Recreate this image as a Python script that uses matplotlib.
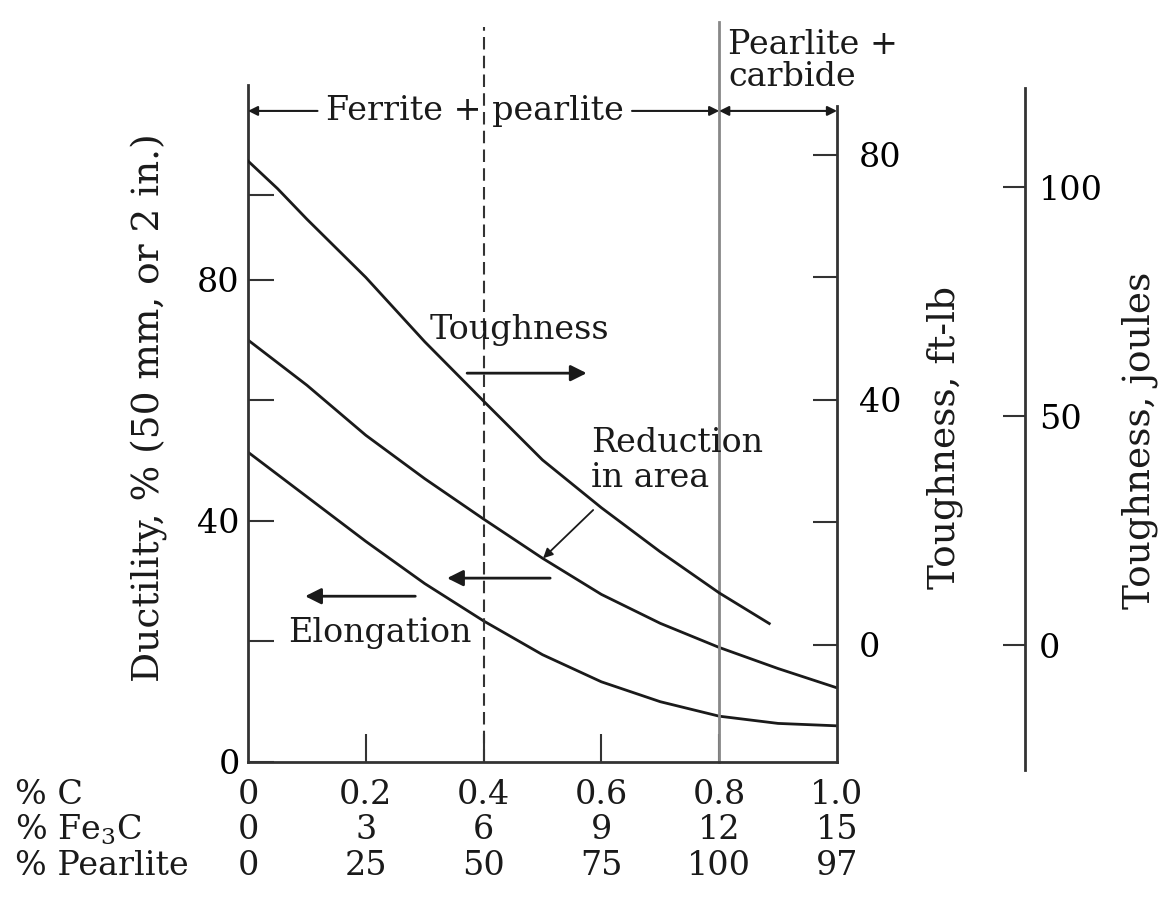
import matplotlib
matplotlib.use('Agg')
import matplotlib.pyplot as plt

plt.rcParams['font.family'] = ['DejaVu Serif']
plt.rcParams['font.size'] = 24
plt.rcParams['mathtext.fontset'] = 'dejavuserif'
plt.rcParams['mathtext.default'] = 'regular'

# composition scales under the x axis
carbon = ['0', '0.2', '0.4', '0.6', '0.8', '1.0']
carbon_pos = [0, 0.2, 0.4, 0.6, 0.8, 1.0]
fe3c = ['0', '3', '6', '9', '12', '15']
pearlite = ['0', '25', '50', '75', '100', '97']

# toughness, ft-lb (right scale)
x_tough = [0, 0.05, 0.1, 0.2, 0.3, 0.4, 0.5, 0.6, 0.7, 0.8, 0.885]
tough_ftlb = [79, 74.5, 69.5, 60, 49.5, 39.8, 30.2, 22.4, 15.2, 8.5, 3.5]

# ductility, % (left scale)
x_duct = [0, 0.1, 0.2, 0.3, 0.4, 0.5, 0.6, 0.7, 0.8, 0.9, 1.0]
reduction = [70, 62.5, 54.2, 47, 40.3, 33.8, 27.8, 23, 19, 15.5, 12.3]
elongation = [51.4, 44, 36.6, 29.6, 23.4, 17.8, 13.3, 10.0, 7.6, 6.4, 6.0]

duct_ticks = [0, 20, 40, 60, 80, 94]
duct_labels = ['0', '', '40', '', '80', '']
ftlb_ticks = [0, 20, 40, 60, 80]
ftlb_labels = ['0', '', '40', '', '80']
joule_ticks = [0, 50, 100]

DUCT_LIM = (0, 112.3)
FTLB_LIM = (-19.1, 91.4)
JOULE_LIM = (-25.5, 122.3)

ink = '#1a1a1a'

fig = plt.figure(figsize=(11.69, 9.10), dpi=100)
ax = fig.add_axes([248 / 1169, 148 / 910, 589 / 1169, 677 / 910])
ax.set_xlim(0, 1.0)
ax.set_ylim(*DUCT_LIM)

ax.plot(x_duct, reduction, color=ink, lw=2)
ax.plot(x_duct, elongation, color=ink, lw=2)

ax2 = ax.twinx()
ax2.set_ylim(*FTLB_LIM)
ax2.plot(x_tough, tough_ftlb, color=ink, lw=2)

ax3 = ax.twinx()
ax3.set_ylim(*JOULE_LIM)

# spines
for s in ['top', 'right']:
    ax.spines[s].set_visible(False)
for s in ['top', 'left', 'bottom']:
    ax2.spines[s].set_visible(False)
    ax3.spines[s].set_visible(False)
for a, s in [(ax, 'left'), (ax, 'bottom'), (ax2, 'right'), (ax3, 'right')]:
    a.spines[s].set_linewidth(2)
    a.spines[s].set_color('#333333')
ax2.spines['right'].set_bounds(-19.1, 88)
ax3.spines['right'].set_position(('axes', 1.319))
ax3.spines['right'].set_bounds(-27.3, 121.6)

# ticks
ax.set_xticks([0.2, 0.4, 0.6, 0.8])
ax.set_xticklabels([])
ax.tick_params(axis='x', direction='in', length=20, width=1.5, color='#333333')
ax.set_yticks(duct_ticks)
ax.set_yticklabels(duct_labels)
ax.tick_params(axis='y', direction='in', length=19, width=1.5, pad=6, color='#333333')
ax2.set_yticks(ftlb_ticks)
ax2.set_yticklabels(ftlb_labels)
ax2.tick_params(axis='y', direction='in', length=17, width=1.5, pad=16, color='#333333')
ax3.set_yticks(joule_ticks)
ax3.tick_params(axis='y', direction='in', length=16, width=1.5, pad=10, color='#333333')

# phase boundaries
ax.plot([0.4, 0.4], [0, 122], color='#333333', lw=1.5, ls=(0, (6, 3)), clip_on=False)
ax.plot([0.8, 0.8], [0, 122.7], color='#888888', lw=2, clip_on=False)

# phase region dimension lines
arr = dict(arrowstyle='-|>', lw=1.5, color=ink, mutation_scale=14, shrinkA=0, shrinkB=0)
ax.annotate('', xy=(0, 108), xytext=(0.118, 108), arrowprops=arr)
ax.annotate('', xy=(0.8, 108), xytext=(0.652, 108), arrowprops=arr)
ax.text(0.385, 108, 'Ferrite + pearlite', ha='center', va='center', color=ink)
ax.annotate('', xy=(1.0, 108), xytext=(0.8, 108),
            arrowprops=dict(arrowstyle='<|-|>', lw=1.5, color=ink, mutation_scale=14,
                            shrinkA=0, shrinkB=0))
ax.text(0.815, 116.3, 'Pearlite +\ncarbide', ha='left', va='center', linespacing=1.0, color=ink)

# curve labels and pointers
big = dict(arrowstyle='-|>', lw=2, color=ink, mutation_scale=24, shrinkA=0, shrinkB=0)
ax.text(0.46, 71.6, 'Toughness', ha='center', va='center', color=ink)
ax.annotate('', xy=(0.575, 64.5), xytext=(0.372, 64.5), arrowprops=big)
ax.text(0.583, 50, 'Reduction\nin area', ha='left', va='center', linespacing=1.1, color=ink)
ax.annotate('', xy=(0.501, 33.8), xytext=(0.586, 41.8),
            arrowprops=dict(arrowstyle='-|>', lw=1.3, color=ink, mutation_scale=14,
                            shrinkA=0, shrinkB=0))
ax.annotate('', xy=(0.338, 30.5), xytext=(0.513, 30.5), arrowprops=big)
ax.text(0.224, 21.4, 'Elongation', ha='center', va='center', color=ink)
ax.annotate('', xy=(0.097, 27.5), xytext=(0.284, 27.5), arrowprops=big)

# composition rows under the axis
tr = ax.get_xaxis_transform()
rows = [('% C', carbon, 795), ('% Fe$_3$C', fe3c, 830), ('% Pearlite', pearlite, 866)]
for name, vals, ypx in rows:
    yf = (762 - ypx) / 677
    fig.text(15 / 1169, 1 - ypx / 910, name, ha='left', va='center', color=ink)
    for xv, lab in zip(carbon_pos, vals):
        ax.text(xv, yf, lab, transform=tr, ha='center', va='center', color=ink)

# axis titles
fig.text(150 / 1169, 1 - 408 / 910, 'Ductility, % (50 mm, or 2 in.)', rotation=90,
         ha='center', va='center', fontsize=27, color=ink)
fig.text(945 / 1169, 1 - 437 / 910, 'Toughness, ft-lb', rotation=90,
         ha='center', va='center', fontsize=27, color=ink)
fig.text(1140 / 1169, 1 - 440 / 910, 'Toughness, joules', rotation=90,
         ha='center', va='center', fontsize=27, color=ink)

fig.savefig('out.png', dpi=100)
